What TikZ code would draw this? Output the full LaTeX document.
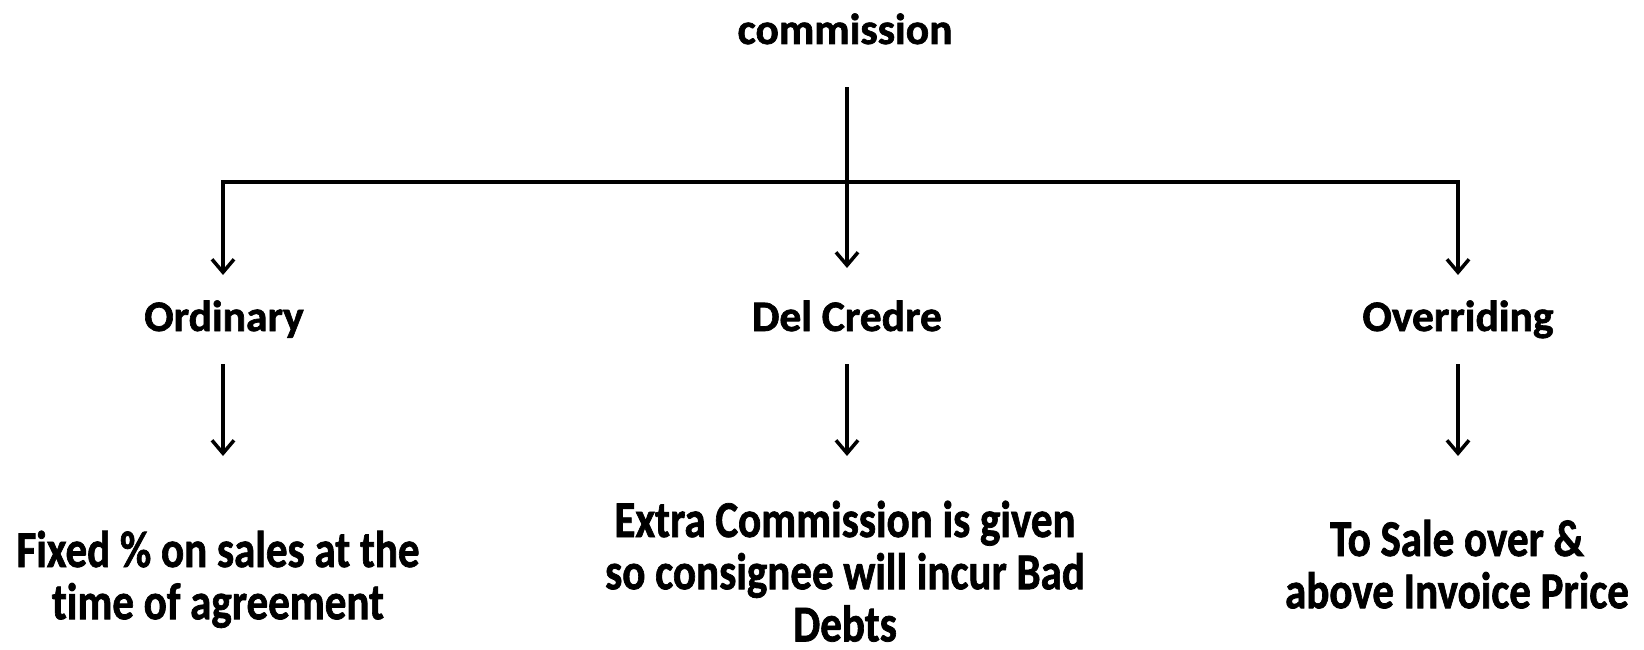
\documentclass[tikz,border=0pt]{standalone}
\usepackage{fontspec}
\usepackage{graphicx}
\setmainfont{Carlito}[Ligatures=CommonOff, BoldFeatures={FakeBold=1.5}]
\usetikzlibrary{arrows.meta}

\newcommand{\headfont}{\fontsize{43.5}{48}\bfseries\selectfont}
\newcommand{\bodyfont}{\fontsize{43}{43.5}\bfseries\selectfont}
% tall, centred multi-line block; its baseline is the first line's baseline
\newcommand{\tallblock}[1]{\scalebox{1}[1.2]{\bodyfont\lineskiplimit=-100pt\lineskip=0pt\vtop{\halign{\hfil##\hfil\cr#1\crcr}}}}

\begin{document}
\begin{tikzpicture}[x=1pt,y=-1pt,
  head/.style={anchor=base,inner sep=0pt,font=\headfont},
  body/.style={anchor=base,inner sep=0pt},
  tree/.style={line width=3.9pt,line cap=rect},
  arr/.style={line width=3.5pt,-{Straight Barb[length=13pt,width=22pt,line width=3.5pt]}}]
  \useasboundingbox (0,0) rectangle (1644,650);

  % headings
  \node[head] (title) at (845,44) {commission};
  \node[head] (ord)  at (224,331) {Ordinary};
  \node[head] (del)  at (847,331) {Del Credre};
  \node[head] (over) at (1458,331) {Overriding};

  % descriptions
  \node[body] (dord)  at (218,567) {\tallblock{Fixed \% on sales at the\cr time of agreement}};
  \node[body] (ddel)  at (845,537) {\tallblock{Extra Commission is given\cr so consignee will incur Bad\cr Debts}};
  \node[body] (dover) at (1457,556) {\tallblock{To Sale over \&\cr above Invoice Price}};

  % branch points and arrow ends
  \coordinate (stem) at (847,89);
  \coordinate (jc) at (847,182);
  \coordinate (jl) at (223,182);
  \coordinate (jr) at (1458,182);
  \coordinate (tl) at (223,275);
  \coordinate (tc) at (847,268);
  \coordinate (tr) at (1458,275);

  \coordinate (sl) at (223,364);
  \coordinate (sc) at (847,364);
  \coordinate (sr) at (1458,364);
  \coordinate (el) at (223,456);
  \coordinate (ec) at (847,456);
  \coordinate (er) at (1458,456);

  % tree connectors
  \draw[tree] (stem) -- (jc);
  \draw[tree] (jl) -- (jr);
  \draw[arr] (jl) -- (tl);
  \draw[arr] (jc) -- (tc);
  \draw[arr] (jr) -- (tr);

  \draw[arr] (sl) -- (el);
  \draw[arr] (sc) -- (ec);
  \draw[arr] (sr) -- (er);
\end{tikzpicture}
\end{document}
